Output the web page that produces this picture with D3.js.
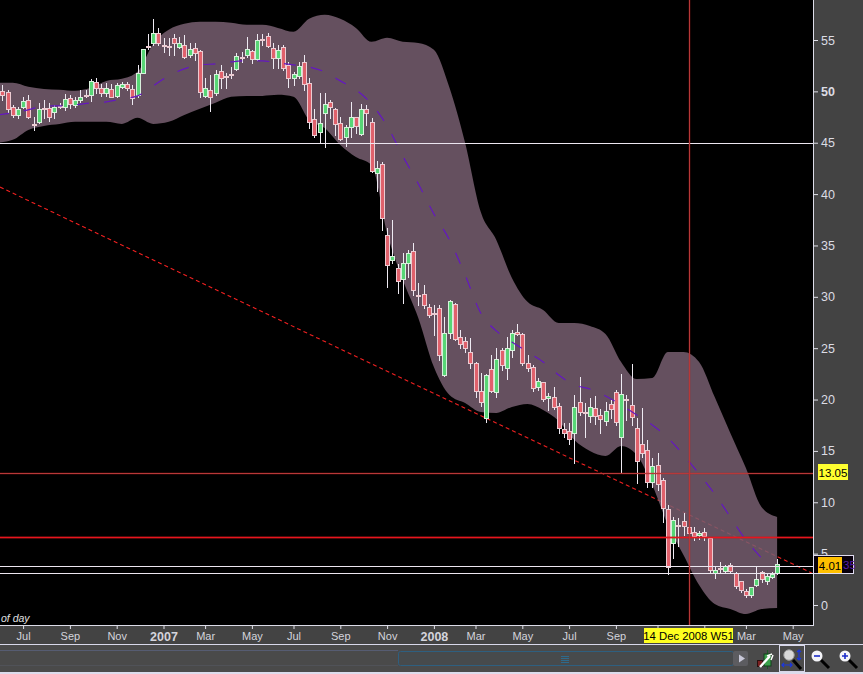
<!DOCTYPE html>
<html><head><meta charset="utf-8">
<script src="https://cdn.jsdelivr.net/npm/d3@7"></script>
<style>html,body{margin:0;padding:0;background:#000;overflow:hidden}svg{display:block}text{font-family:"Liberation Sans",Arial,sans-serif}</style>
</head><body><div id="chart"></div>
<script>
const candleOpen=[50.05,49.95,48.49,47.71,48.49,49.17,46.83,47.03,48.39,48.39,48.0,48.59,48.49,49.37,48.69,49.17,49.66,49.66,50.93,50.34,49.85,50.24,49.56,50.44,50.73,50.24,49.66,51.80,54.43,54.72,55.70,54.53,54.43,55.21,54.33,54.53,53.55,54.23,53.94,49.56,50.15,49.85,52.0,51.51,51.70,52.19,53.36,53.55,53.94,53.16,55.11,55.40,54.23,53.26,54.33,52.58,51.32,51.51,52.87,50.83,47.32,46.06,47.91,48.98,48.30,46.93,45.57,46.54,47.52,45.86,48.30,47.03,42.06,42.94,36.03,33.59,32.81,31.74,33.30,34.47,30.18,30.28,29.02,28.43,28.92,22.39,26.48,29.31,26.09,25.71,24.63,23.56,20.84,18.21,22.98,20.74,24.83,23.08,24.83,26.58,26.39,23.56,23.17,21.23,21.71,20.16,20.25,19.38,17.14,16.94,16.75,19.77,18.79,18.40,19.18,18.50,17.92,19.57,20.74,16.36,20.06,19.47,17.23,15.68,15.09,11.98,13.63,12.17,9.35,6.04,7.79,8.18,7.59,7.11,6.82,7.11,6.52,3.12,3.60,3.31,3.89,3.12,2.34,1.36,0.97,1.95,3.21,2.34,2.73,3.12];
const candleHigh=[50.63,50.15,48.69,48.49,49.47,49.66,47.52,48.88,49.17,48.88,48.69,48.88,49.76,49.66,49.47,50.15,50.15,51.22,51.32,50.73,50.83,50.73,50.83,50.93,50.93,50.63,52.58,54.14,55.60,57.06,56.18,55.21,55.21,55.60,55.31,55.50,54.72,54.72,54.04,51.32,51.61,52.09,52.58,51.80,52.38,53.75,53.85,55.31,54.04,55.60,55.60,55.70,54.72,54.53,54.53,52.87,51.90,52.87,53.55,51.32,48.30,49.85,49.85,49.17,48.39,47.52,46.74,48.98,47.52,48.78,48.69,47.42,43.23,43.13,36.71,37.49,33.20,34.27,34.57,35.25,31.35,31.16,29.31,29.21,29.21,28.04,29.70,29.41,26.78,26.09,26.0,23.66,22.59,22.49,24.34,25.02,25.02,26.09,26.78,27.36,26.48,24.34,23.37,22.10,21.71,20.64,21.23,19.67,17.72,17.72,20.45,22.20,19.67,20.16,20.35,19.08,19.77,19.96,20.93,22.49,20.45,23.47,18.21,19.18,16.07,14.31,14.80,12.37,9.74,8.57,8.47,8.96,8.28,7.59,7.21,7.50,6.52,3.70,4.19,3.89,4.09,3.21,2.34,1.56,1.75,3.70,3.31,3.02,3.21,4.48];
const candleLow=[49.17,47.91,47.52,47.42,48.39,47.42,46.25,46.93,47.42,47.13,47.42,48.39,48.20,48.39,48.49,48.98,49.47,49.08,49.85,49.56,49.56,49.47,49.47,50.34,50.15,48.78,49.47,51.80,54.14,54.53,54.53,53.85,53.55,53.55,54.23,53.26,53.36,53.07,49.47,49.47,48.10,49.66,50.34,50.34,51.32,52.09,52.87,53.36,52.77,53.07,54.53,54.33,52.29,52.29,52.09,50.44,50.63,51.32,50.15,46.44,45.57,44.99,44.60,47.42,45.76,45.28,44.70,45.57,45.96,45.76,46.74,42.16,40.31,36.51,30.96,33.30,30.38,29.41,31.94,30.18,29.21,28.92,28.04,26.29,23.86,22.30,26.0,25.80,25.02,24.63,23.08,20.25,19.38,17.82,20.74,20.25,22.88,22.0,24.15,26.29,23.37,22.78,20.84,20.93,19.86,18.99,19.08,16.75,16.36,15.68,13.83,18.50,16.36,17.82,17.62,16.75,17.53,18.21,17.53,12.85,18.01,17.53,11.88,14.41,11.49,11.49,11.20,8.08,3.02,4.58,5.74,6.82,6.52,6.33,6.43,6.33,3.21,2.63,3.12,3.12,3.12,1.66,1.27,0.78,0.78,1.85,2.24,2.04,2.63,3.02];
const candleClose=[49.66,48.30,47.71,48.30,49.08,47.52,46.74,48.30,48.30,47.52,48.49,48.49,49.27,48.78,49.17,49.47,49.56,51.02,50.34,49.85,50.34,49.47,50.63,50.73,50.34,49.37,51.80,54.14,54.33,55.70,54.72,54.43,54.33,54.72,54.72,53.36,54.14,53.75,49.95,50.34,49.47,51.70,51.32,51.41,51.61,53.46,53.26,54.14,53.16,55.01,55.01,54.43,53.26,54.04,52.29,51.32,51.70,52.48,50.73,47.03,45.76,46.93,48.78,48.49,46.83,45.38,46.54,47.52,46.64,48.30,47.91,42.26,42.55,37.68,33.11,33.98,31.55,33.30,34.27,30.67,30.09,29.21,28.24,28.33,24.34,26.48,29.60,25.90,25.41,25.02,23.56,20.84,19.77,22.39,20.84,23.95,23.37,25.02,26.48,26.39,23.56,23.08,21.13,21.81,20.06,20.35,19.28,17.23,16.75,16.16,19.28,18.79,18.70,19.28,18.40,18.11,18.89,19.08,17.82,20.54,19.96,18.31,14.02,14.80,11.98,13.53,11.78,9.44,3.70,8.28,7.69,7.69,7.01,6.72,7.01,6.72,3.41,3.41,3.51,3.80,3.31,1.85,1.46,0.97,1.75,2.53,2.53,2.82,3.02,3.99];

const bandWeeks=[-1,2,5,8,11,14,17,20,23,26,29,32,35,38,41,44,47,50,53,56,59,62,65,68,71,74,77,80,83,86,89,92,95,98,101,104,107,110,113,116,119,122,125,128,131,134,137,140,143,146,149];
const bandUpper=[50.83,50.83,50.44,50.24,50.15,50.05,50.34,51.02,51.22,51.90,54.62,55.99,56.57,56.77,56.77,56.67,56.48,56.48,56.18,55.80,57.06,57.45,57.06,56.18,54.82,55.21,54.82,54.72,54.04,50.34,44.99,38.27,35.54,31.84,29.51,28.72,27.46,27.46,27.17,26.39,23.66,22.0,22.10,24.63,24.63,23.66,20.25,16.75,13.33,9.54,8.57];
const bandLower=[44.99,45.28,46.25,46.64,46.83,47.03,47.03,47.03,46.83,47.42,46.83,47.03,47.71,48.30,48.88,49.47,49.56,49.56,49.66,49.47,47.22,46.44,44.79,43.62,42.84,36.22,31.65,27.95,23.17,20.45,19.67,18.79,18.70,19.28,19.57,18.99,17.92,16.07,15.0,14.51,15.48,14.61,11.68,7.79,4.87,1.95,0.10,-0.39,-0.88,-0.39,-0.29];
const movingAverage=[47.71,47.91,48.20,48.59,48.59,48.69,48.88,48.98,49.27,49.56,50.53,51.51,52.19,52.58,52.68,52.87,52.97,52.97,52.77,52.58,52.38,51.90,51.02,50.15,48.78,46.64,43.72,41.0,38.07,35.54,32.13,28.43,26.68,25.61,24.63,23.66,22.39,21.42,21.03,20.35,19.47,18.50,17.53,16.26,14.61,12.76,10.81,8.57,6.33,4.58];

const trendWeeks=[-0.44,155.7];
const trendPrices=[40.68,3.1];
const priceTicks=[0,5,10,15,20,25,30,35,40,45,50,55];
const timeTickWeeks=[4,13,22,31,39,48,56,65,74,83,91,100,109,118,126,135,143,152];
const timeTickLabels=["Jul","Sep","Nov","2007","Mar","May","Jul","Sep","Nov","2008","Mar","May","Jul","Sep","","","Mar","May"];
const whiteLevels=[45,3.84,3.1];
const alertLevel=[12.87];
const brightRedLevel=[6.6];
const cursorWeek=[132.1];
const cursorDate="14 Dec 2008 W51";
const alertTag="13.05";
const lastTag="4.01";

const W=863,H=674,plotR=813,plotB=625;
const x=d3.scaleLinear().domain([0,149]).range([2.3,777.1]);
const y=d3.scaleLinear().domain([0,55]).range([605,40]);
const svg=d3.select("#chart").append("svg").attr("width",W).attr("height",H);

svg.append("rect").attr("width",W).attr("height",H).attr("fill","#434343");
svg.append("rect").attr("width",plotR).attr("height",plotB).attr("fill","#000");
svg.append("clipPath").attr("id","plot").append("rect").attr("width",plotR).attr("height",plotB);
const g=svg.append("g").attr("clip-path","url(#plot)");

// trend line (beneath the translucent band)
g.append("line").attr("x1",x(trendWeeks[0])).attr("y1",y(trendPrices[0])).attr("x2",x(trendWeeks[1])).attr("y2",y(trendPrices[1]))
 .attr("stroke","#f02020").attr("stroke-width",1.1).attr("stroke-dasharray","4 3");

// band
const bandRows=bandWeeks.map((w,i)=>({w,u:bandUpper[i],l:bandLower[i]}));
g.append("path").datum(bandRows)
 .attr("d",d3.area().x(d=>x(d.w)).y0(d=>y(d.l)).y1(d=>y(d.u)).curve(d3.curveMonotoneX))
 .attr("fill","#775e70").attr("fill-opacity",0.85);

// candles
const rows=candleOpen.map((o,i)=>({i,o,h:candleHigh[i],l:candleLow[i],c:candleClose[i]}));
const cg=g.selectAll("g.c").data(rows).join("g").attr("class","c");
cg.append("line").attr("x1",d=>Math.round(x(d.i))+.5).attr("x2",d=>Math.round(x(d.i))+.5)
  .attr("y1",d=>Math.round(y(d.h))).attr("y2",d=>Math.round(y(d.l))+1)
  .attr("stroke","#eeeaf2");
cg.append("rect")
  .attr("x",d=>Math.round(x(d.i))-1.5)
  .attr("width",4)
  .attr("y",d=>Math.round(y(Math.max(d.o,d.c)))+.5)
  .attr("height",d=>Math.max(1,Math.round(y(Math.min(d.o,d.c)))-Math.round(y(Math.max(d.o,d.c)))))
  .attr("fill",d=>d.c>=d.o?"#58d676":"#e0616c")
  .attr("stroke",d=>d.c>=d.o?"#d8f0dc":"#eccbd2").attr("stroke-width",1);

// moving average
g.append("path").datum(movingAverage)
 .attr("d",d3.line().x((d,i)=>x(bandWeeks[i])).y(d=>y(d)).curve(d3.curveMonotoneX))
 .attr("fill","none").attr("stroke","#6418c0").attr("stroke-width",1.2).attr("stroke-dasharray","12 15");

// horizontal levels and cursor: a one-pixel core with a soft red fringe
function level(values,color,fringe){
  for(const [w,op] of (fringe?[[3,fringe],[1,1]]:[[1,1]])){
    g.selectAll(null).data(values).join("line")
     .attr("x1",0).attr("x2",plotR).attr("y1",d=>Math.round(y(d))+.5).attr("y2",d=>Math.round(y(d))+.5)
     .attr("stroke",w===3?"#d01818":color).attr("stroke-width",w).attr("stroke-opacity",op);
  }
}
level(alertLevel,"#b83838",0.16);
level(brightRedLevel,"#e8141e",0.4);
level(whiteLevels,"#ece6f0",0);
for(const [w,op,col] of [[3,0.16,"#d01818"],[1,1,"#b83838"]]){
  g.selectAll(null).data(cursorWeek).join("line")
   .attr("x1",d=>Math.round(x(d))+.5).attr("x2",d=>Math.round(x(d))+.5).attr("y1",0).attr("y2",plotB)
   .attr("stroke",col).attr("stroke-width",w).attr("stroke-opacity",op);
}

g.append("text").attr("x",1).attr("y",622).attr("font-size",10.5).attr("font-style","italic").attr("fill","#e0e0e0").text("of day");

// frame
svg.append("line").attr("x1",plotR+.5).attr("x2",plotR+.5).attr("y1",0).attr("y2",plotB+1).attr("stroke","#dcdce8");
svg.append("line").attr("x1",0).attr("x2",plotR+1).attr("y1",plotB+.5).attr("y2",plotB+.5).attr("stroke","#dcdce8");

// price axis
const yAxis=d3.axisRight(y).tickValues(priceTicks).tickSize(5).tickPadding(3).tickFormat(d3.format("d"));
const ya=svg.append("g").attr("transform",`translate(${plotR},0)`).call(yAxis);
ya.select(".domain").remove();
ya.selectAll("line").attr("stroke","#e0e0e8");
ya.selectAll("text").attr("fill","#dcdce4").attr("font-size",12.5)
  .attr("font-weight",d=>d===50?"bold":"normal");

// time axis
const labelByWeek=new Map(timeTickWeeks.map((w,i)=>[w,timeTickLabels[i]]));
const xAxis=d3.axisBottom(x).tickValues(timeTickWeeks).tickSize(3).tickPadding(3).tickFormat(w=>labelByWeek.get(w));
const xa=svg.append("g").attr("transform",`translate(0,${plotB+1})`).call(xAxis);
xa.select(".domain").remove();
xa.selectAll("line").attr("stroke","#e0e0e8");
xa.selectAll("text").attr("fill","#d4d4dc").attr("font-size",d=>labelByWeek.get(d).length===4?12.5:11)
  .attr("font-weight",d=>labelByWeek.get(d).length===4?"bold":"normal");

// value tags
svg.append("rect").attr("x",813.5).attr("y",555.5).attr("width",40).attr("height",18).attr("fill","#08000c").attr("stroke","#e0dcf0");
svg.append("text").attr("x",843).attr("y",569).attr("font-size",11.5).attr("fill","#5a1fa8").text("35");
svg.append("rect").attr("x",818).attr("y",557).attr("width",24).attr("height",16).attr("fill","#ffc000");
svg.append("text").attr("x",830).attr("y",569.5).attr("text-anchor","middle").attr("font-size",11.5).attr("fill","#000").text(lastTag);
svg.append("rect").attr("x",818).attr("y",464).attr("width",30).attr("height",16).attr("fill","#ffff30");
svg.append("text").attr("x",833).attr("y",476.5).attr("text-anchor","middle").attr("font-size",11.5).attr("fill","#000").text(alertTag);
svg.append("rect").attr("x",644).attr("y",628).attr("width",89).attr("height",15).attr("fill","#ffff20");
svg.append("text").attr("x",688.5).attr("y",640).attr("text-anchor","middle").attr("font-size",11.3).attr("fill","#000").text(cursorDate);

// lower toolbar
svg.append("rect").attr("x",0).attr("y",644).attr("width",W).attr("height",1).attr("fill","#d8d8ea");
svg.append("rect").attr("x",0).attr("y",645).attr("width",W).attr("height",27).attr("fill","#4a4a4a");
svg.append("rect").attr("x",0).attr("y",672).attr("width",W).attr("height",2).attr("fill","#dcdcec");
svg.append("line").attr("x1",0).attr("x2",398).attr("y1",650.5).attr("y2",650.5).attr("stroke","#565c72");
svg.append("line").attr("x1",0).attr("x2",398).attr("y1",665.5).attr("y2",665.5).attr("stroke","#505258");
svg.append("rect").attr("x",398.5).attr("y",651.5).attr("width",335).attr("height",14).attr("rx",2).attr("fill","#474a4c").attr("stroke","#2e5f80");
for(const yy of [656,658,660,662]) svg.append("line").attr("x1",561).attr("x2",569).attr("y1",yy+.5).attr("y2",yy+.5).attr("stroke","#2e6a8c");
svg.append("rect").attr("x",733).attr("y",651).attr("width",15).attr("height",15).attr("rx",2).attr("fill","#5c5c60");
svg.append("path").attr("d","M739 654.5L745 658.5L739 662.5Z").attr("fill","#c8c8d8");

// chart-settings icon
svg.append("line").attr("x1",767.5).attr("x2",767.5).attr("y1",650).attr("y2",669).attr("stroke","#1c5a24");
svg.append("rect").attr("x",764).attr("y",654).attr("width",7).attr("height",12).attr("fill","#3ba04a").attr("stroke","#12401a");
svg.append("rect").attr("x",757.5).attr("y",660.5).attr("width",5).attr("height",6).attr("fill","#7a2020").attr("stroke","#2a1010");
svg.append("path").attr("d","M760 667L770 656").attr("stroke","#fff").attr("stroke-width",2.4);
svg.append("path").attr("d","M767 656L772 654M771 660L773 655").attr("stroke","#fff").attr("stroke-width",1.5);

// selected magnifier
svg.append("rect").attr("x",779.5).attr("y",645.5).attr("width",25).attr("height",26).attr("fill","none").attr("stroke","#d8d8ea");
svg.append("line").attr("x1",793).attr("y1",660).attr("x2",801).attr("y2",669).attr("stroke","#000").attr("stroke-width",3);
svg.append("circle").attr("cx",789).attr("cy",655).attr("r",5.2).attr("fill","#d8d8d8").attr("stroke","#a0a0a0");
svg.append("path").attr("d","M782 665H792M784 663L782 665L784 667M790 663L792 665L790 667M799 650V660M797 652L799 650L801 652M797 658L799 660L801 658")
  .attr("stroke","#1a36e0").attr("stroke-width",1.2).attr("fill","none");

// zoom out / zoom in
for(const [cx,sign] of [[817,"-"],[845,"+"]]){
  svg.append("line").attr("x1",cx+4).attr("y1",660).attr("x2",cx+12).attr("y2",668).attr("stroke","#000").attr("stroke-width",3);
  svg.append("circle").attr("cx",cx).attr("cy",656).attr("r",5.5).attr("fill","#f4f4f8");
  svg.append("path").attr("d",sign==="-"?`M${cx-3} 656H${cx+3}`:`M${cx-3} 656H${cx+3}M${cx} 653V659`).attr("stroke","#1a2ac8").attr("stroke-width",1.6);
}
</script></body></html>
